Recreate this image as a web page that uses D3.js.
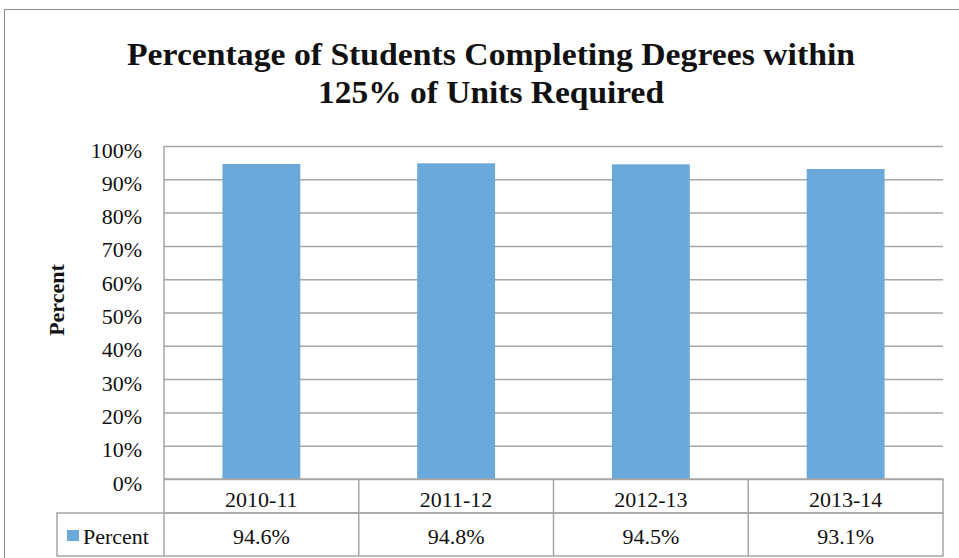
<html>
<head>
<script src="https://d3js.org/d3.v7.min.js"></script>
<style>
  body { margin: 0; background: #fff; }
  text { font-family: "Liberation Serif", "Times New Roman", serif; fill: #111; }
</style>
</head>
<body>
<script>
// chart data
const categories = ['2010-11', '2011-12', '2012-13', '2013-14'];
const percentValues = [94.6, 94.8, 94.5, 93.1];
const seriesName = 'Percent';
const yTicks = [0, 10, 20, 30, 40, 50, 60, 70, 80, 90, 100];
const titleLines = ['Percentage of Students Completing Degrees within', '125% of Units Required'];

function draw() {
  const W = 959, H = 558;
  const plot = {left: 164, right: 943, top: 146, bottom: 479};
  const rowH = [34, 43];
  const legendLeft = 57;
  const barColor = '#6ca9db';
  const lineColor = '#a6a6a6';
  const fs = 22;

  const svg = d3.select('body').append('svg')
      .attr('width', W).attr('height', H);

  // outer chart border
  svg.append('rect')
      .attr('x', 4.5).attr('y', 9.5)
      .attr('width', W + 10).attr('height', H + 10)
      .attr('fill', 'none').attr('stroke', '#8c8c8c').attr('stroke-width', 1);

  // title
  svg.append('g').selectAll('text').data(titleLines).enter().append('text')
      .attr('x', 491)
      .attr('y', (d, i) => 65 + i * 38)
      .attr('text-anchor', 'middle')
      .attr('font-weight', 'bold')
      .attr('font-size', 32)
      .attr('textLength', (d, i) => i === 0 ? 728 : 346)
      .attr('lengthAdjust', 'spacingAndGlyphs')
      .text(d => d);

  const x = d3.scaleBand().domain(categories)
      .range([plot.left, plot.right]).paddingInner(0.6).paddingOuter(0.3);
  const xCell = d3.scaleBand().domain(categories).range([plot.left, plot.right]);
  const y = d3.scaleLinear().domain([0, 100]).range([plot.bottom, plot.top]);

  // gridlines + tick labels
  const yAxis = d3.axisLeft(y).tickValues(yTicks)
      .tickSize(-(plot.right - plot.left)).tickPadding(22)
      .tickFormat(d => d + '%');
  const gy = svg.append('g')
      .attr('transform', 'translate(' + plot.left + ',0)')
      .call(yAxis);
  gy.select('.domain').remove();
  gy.selectAll('.tick line')
      .attr('stroke', lineColor).attr('stroke-width', 1.5);
  gy.selectAll('.tick text')
      .attr('font-size', fs)
      .attr('dy', '0.5em')
      .attr('fill', '#111');

  // left axis line
  svg.append('line')
      .attr('x1', plot.left).attr('x2', plot.left)
      .attr('y1', plot.top).attr('y2', plot.bottom)
      .attr('stroke', lineColor).attr('stroke-width', 1.5);

  // y axis title
  svg.append('text')
      .attr('transform', 'translate(64,300) rotate(-90)')
      .attr('text-anchor', 'middle')
      .attr('font-weight', 'bold')
      .attr('font-size', 22)
      .text(seriesName);

  // bars
  svg.append('g').selectAll('rect')
      .data(percentValues).enter().append('rect')
      .attr('x', (d, i) => x(categories[i]))
      .attr('width', x.bandwidth())
      .attr('y', d => y(d))
      .attr('height', d => y(0) - y(d))
      .attr('fill', barColor);

  // data table
  const row1 = plot.bottom, row2 = plot.bottom + rowH[0], row3 = row2 + rowH[1];
  const table = svg.append('g')
      .attr('fill', 'none').attr('stroke', lineColor).attr('stroke-width', 1.5);
  table.append('rect')
      .attr('x', plot.left).attr('y', row1)
      .attr('width', plot.right - plot.left).attr('height', rowH[0]);
  table.append('rect')
      .attr('x', legendLeft).attr('y', row2)
      .attr('width', plot.right - legendLeft).attr('height', rowH[1]);
  table.selectAll('.sep').data(categories.slice(1)).enter().append('line')
      .attr('x1', d => xCell(d)).attr('x2', d => xCell(d))
      .attr('y1', row1).attr('y2', row3);
  table.append('line')
      .attr('x1', plot.left).attr('x2', plot.left)
      .attr('y1', row2).attr('y2', row3);

  svg.append('g').selectAll('text')
      .data(categories).enter().append('text')
      .attr('x', d => xCell(d) + xCell.bandwidth() / 2)
      .attr('y', row1 + 28)
      .attr('text-anchor', 'middle')
      .attr('font-size', fs)
      .text(d => d);

  svg.append('g').selectAll('text')
      .data(percentValues).enter().append('text')
      .attr('x', (d, i) => xCell(categories[i]) + xCell.bandwidth() / 2)
      .attr('y', row2 + 31)
      .attr('text-anchor', 'middle')
      .attr('font-size', fs)
      .text(d => d.toFixed(1) + '%');

  // legend key
  svg.append('rect')
      .attr('x', 67).attr('y', row2 + 17)
      .attr('width', 12).attr('height', 11)
      .attr('fill', barColor);
  svg.append('text')
      .attr('x', 83).attr('y', row2 + 31)
      .attr('font-size', fs)
      .text(seriesName);
}

document.addEventListener('DOMContentLoaded', () => draw());
</script>
</body>
</html>
